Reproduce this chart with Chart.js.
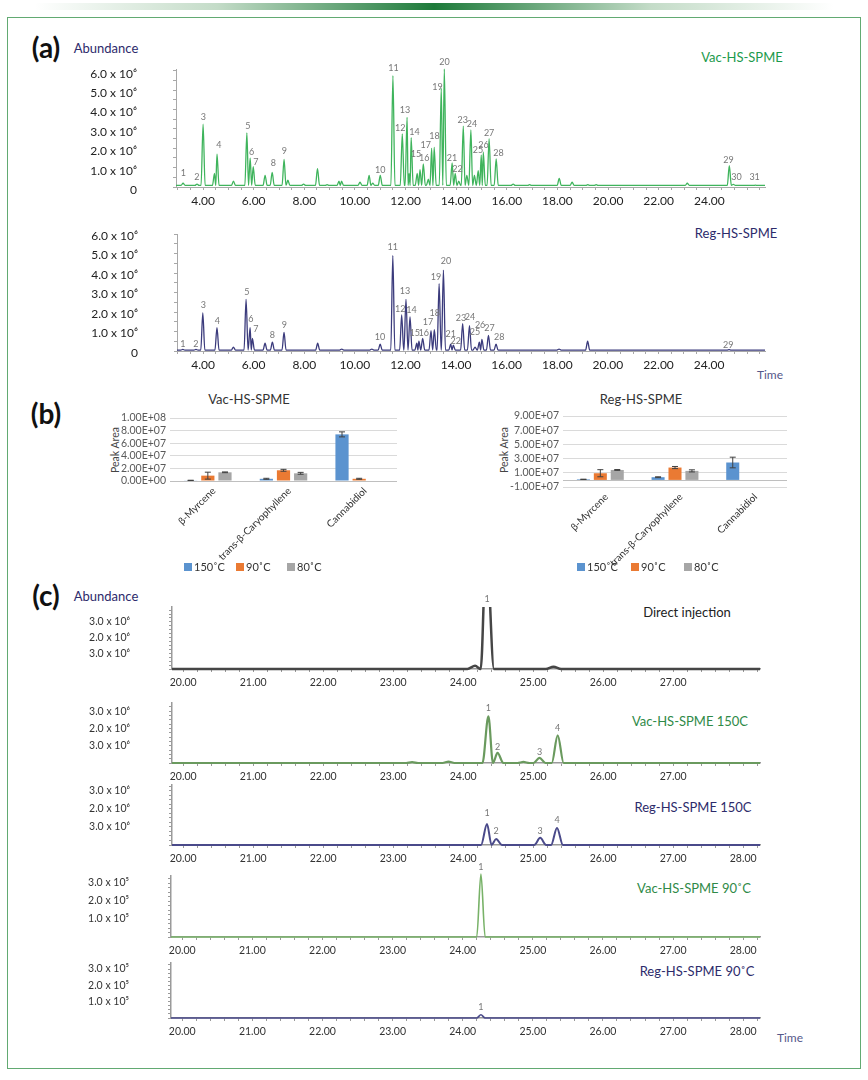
<!DOCTYPE html>
<html>
<head>
<meta charset="utf-8">
<script src="https://cdn.jsdelivr.net/npm/chart.js@4.4.1/dist/chart.umd.min.js"></script>
<style>
    body { margin: 0; background: #fff; font-family: Lato, "Open Sans", sans-serif; }
    #page { position: relative; width: 868px; height: 1080px; overflow: hidden; background: #fff; }
    .topbar { position: absolute; left: 0; top: 3px; width: 868px; height: 7px;
        background: linear-gradient(to right, rgba(255,255,255,0) 4%, #c4dcc8 25%, #1d7a3a 50%, #c4dcc8 75%, rgba(255,255,255,0) 96%); }
    .frame { position: absolute; left: 7px; top: 17px; width: 852px; height: 1050px; border: 1px solid #62aa72; }
    .t { position: absolute; white-space: nowrap; transform: translate(-50%, -50%); line-height: 1; }
    .panel { font-weight: 700; font-size: 28px; color: #111; }
    canvas { position: absolute; }
</style>
</head>
<body>
<div id="page">
    <div class="topbar"></div>
    <div class="frame"></div>

    <div class="t panel" style="left:46px;top:47px;">(a)</div>
    <div class="t" style="left:106px;top:48px;font-size:13px;color:#2d2b6b;">Abundance</div>
    <div class="t" style="left:742px;top:57px;font-size:13px;color:#1c9a4c;">Vac-HS-SPME</div>
    <div class="t" style="left:736px;top:233px;font-size:13px;color:#2d2b6b;">Reg-HS-SPME</div>
    <div class="t" style="left:770px;top:375px;font-size:12px;color:#55588a;">Time</div>

    <div class="t panel" style="left:46px;top:413px;">(b)</div>
    <div class="t" style="left:249px;top:399px;font-size:13px;color:#333;">Vac-HS-SPME</div>
    <div class="t" style="left:641px;top:399px;font-size:13px;color:#333;">Reg-HS-SPME</div>
    <div class="t" style="left:115px;top:450px;font-size:10.5px;color:#444;transform:translate(-50%,-50%) rotate(-90deg);">Peak Area</div>
    <div class="t" style="left:504px;top:450px;font-size:10.5px;color:#444;transform:translate(-50%,-50%) rotate(-90deg);">Peak Area</div>

    <div class="t panel" style="left:46px;top:595px;">(c)</div>
    <div class="t" style="left:106px;top:596px;font-size:13px;color:#2d2b6b;">Abundance</div>
    <div class="t" style="left:687px;top:612px;font-size:13px;color:#222;">Direct injection</div>
    <div class="t" style="left:690px;top:721px;font-size:13px;color:#2f8a48;">Vac-HS-SPME 150C</div>
    <div class="t" style="left:693px;top:807px;font-size:13px;color:#2d2b6b;">Reg-HS-SPME 150C</div>
    <div class="t" style="left:694px;top:888px;font-size:13px;color:#2f8a48;">Vac-HS-SPME 90˚C</div>
    <div class="t" style="left:697px;top:971px;font-size:13px;color:#2d2b6b;">Reg-HS-SPME 90˚C</div>
    <div class="t" style="left:790px;top:1038px;font-size:12px;color:#55588a;">Time</div>
</div>

<script>
// ---- (a) 크로마토그램: 피크 시간(min) / 높이(x10^6) ----
const vacTimes = [3.21, 3.76, 4.00, 4.45, 4.55, 5.20, 5.73, 5.86, 5.98, 6.45, 6.73, 7.20, 7.35, 7.97, 8.52, 8.90, 9.37, 9.47, 10.20, 10.56, 10.70, 11.00, 11.50, 11.87, 12.06, 12.14, 12.22, 12.46, 12.57, 12.70, 12.90, 13.03, 13.13, 13.41, 13.53, 13.84, 13.96, 14.10, 14.28, 14.42, 14.58, 14.72, 14.87, 14.99, 15.07, 15.30, 15.58, 16.25, 16.90, 18.07, 18.58, 19.20, 19.53, 23.13, 24.79, 24.95, 25.82];
const vacHeights = [0.2, 0.15, 3.25, 0.7, 1.7, 0.3, 2.8, 1.5, 1.05, 0.6, 0.75, 1.43, 0.35, 0.15, 0.95, 0.12, 0.3, 0.3, 0.25, 0.6, 0.2, 0.6, 5.75, 2.75, 3.6, 0.7, 2.55, 0.7, 0.9, 1.2, 0.4, 2.0, 2.05, 5.1, 6.1, 1.25, 0.7, 0.3, 3.15, 0.6, 2.95, 0.6, 0.85, 1.65, 1.8, 2.5, 1.45, 0.15, 0.12, 0.45, 0.25, 0.12, 0.12, 0.2, 1.1, 0.14, 0.1];
const vacLabelTexts = ['1', '2', '3', '4', '5', '6', '7', '8', '9', '10', '11', '12', '13', '14', '15', '16', '17', '18', '19', '20', '21', '22', '23', '24', '25', '26', '27', '28', '29', '30', '31'];
const vacLabelTimes = [3.22, 3.75, 4.01, 4.62, 5.77, 5.92, 6.09, 6.78, 7.21, 11.0, 11.52, 11.79, 11.98, 12.35, 12.41, 12.74, 12.80, 13.14, 13.26, 13.54, 13.83, 14.05, 14.26, 14.62, 14.86, 15.08, 15.30, 15.67, 24.76, 25.07, 25.79];
const vacLabelHeights = [0.71, 0.53, 3.60, 2.17, 3.15, 1.83, 1.31, 1.22, 1.88, 0.88, 6.14, 3.07, 3.98, 2.86, 1.69, 1.48, 2.17, 2.64, 5.19, 6.45, 1.48, 0.91, 3.46, 3.24, 1.91, 2.17, 2.78, 1.77, 1.40, 0.50, 0.50];

const regTimes = [3.20, 3.72, 3.99, 4.55, 5.20, 5.70, 5.86, 5.95, 6.45, 6.74, 7.20, 8.53, 9.48, 10.67, 11.00, 11.50, 11.85, 12.02, 12.18, 12.45, 12.53, 12.68, 13.01, 13.14, 13.33, 13.50, 13.79, 13.89, 14.26, 14.53, 14.75, 14.92, 15.02, 15.28, 15.58, 18.07, 19.20, 24.79];
const regHeights = [0.08, 0.08, 1.95, 1.2, 0.2, 2.65, 1.2, 0.65, 0.4, 0.45, 0.95, 0.4, 0.1, 0.1, 0.35, 4.9, 1.85, 2.65, 1.75, 0.4, 0.5, 0.65, 1.05, 1.1, 3.45, 4.15, 0.35, 0.3, 1.4, 1.3, 0.2, 0.45, 0.6, 0.8, 0.35, 0.1, 0.5, 0.07];
const regLabelTexts = ['1', '2', '3', '4', '5', '6', '7', '8', '9', '10', '11', '12', '13', '14', '15', '16', '17', '18', '19', '20', '21', '22', '23', '24', '25', '26', '27', '28', '29'];
const regLabelTimes = [3.20, 3.72, 4.01, 4.57, 5.73, 5.89, 6.09, 6.74, 7.21, 10.99, 11.50, 11.79, 11.98, 12.24, 12.37, 12.72, 12.89, 13.16, 13.21, 13.60, 13.79, 13.99, 14.19, 14.55, 14.75, 14.95, 15.32, 15.71, 24.76];
const regLabelHeights = [0.36, 0.36, 2.36, 1.54, 3.01, 1.66, 1.14, 0.81, 1.32, 0.70, 5.32, 2.15, 3.06, 2.10, 0.94, 0.94, 1.47, 1.96, 3.81, 4.62, 0.86, 0.51, 1.68, 1.76, 0.96, 1.33, 1.16, 0.73, 0.31];

// ---- (b) 막대 그래프 ----
const compounds = ['β-Myrcene', 'trans-β-Caryophyllene', 'Cannabidiol'];
const temps = ['150˚C', '90˚C', '80˚C'];
const vac150 = [1.0e6, 3.5e6, 7.4e7];
const vac90 = [8.5e6, 1.7e7, 3.5e6];
const vac80 = [1.38e7, 1.22e7, 8.0e5];
const vac150Err = [2e5, 8e5, 4e6];
const vac90Err = [5.5e6, 1.5e6, 8e5];
const vac80Err = [6e5, 1.5e6, 0];
const reg150 = [8.0e5, 3.8e6, 2.45e7];
const reg90 = [9.4e6, 1.74e7, 0];
const reg80 = [1.4e7, 1.27e7, 0];
const reg150Err = [2e5, 6e5, 7.5e6];
const reg90Err = [5e6, 1.5e6, 0];
const reg80Err = [6e5, 1.5e6, 0];

// ---- (c) 크로마토그램 ----
const directTimes = [24.17, 24.33, 25.29];
const directHeights = [0.2, 8.0, 0.15];
const directLabelTimes = [24.34];
const directLabelHeights = [4.46];

const vac150Times = [23.27, 23.79, 24.36, 24.49, 24.86, 25.09, 25.35];
const vac150Heights = [0.05, 0.08, 2.7, 0.58, 0.06, 0.3, 1.6];
const vac150LabelTimes = [24.36, 24.49, 25.09, 25.35];
const vac150LabelHeights = [3.18, 0.92, 0.64, 2.02];

const reg150Times = [24.34, 24.47, 25.10, 25.34];
const reg150Heights = [1.17, 0.33, 0.4, 0.95];
const reg150LabelTimes = [24.34, 24.47, 25.10, 25.34];
const reg150LabelHeights = [1.75, 0.78, 0.78, 1.39];

const vac90Times = [24.26];
const vac90Heights = [3.5];
const vac90LabelHeights = [3.89];

const reg90Times = [24.26];
const reg90Heights = [0.2];
const reg90LabelHeights = [0.67];

const peakNumbers = ['1', '2', '3', '4'];
const tickValuesC = [1, 2, 3];
const tickTextsE6 = ['3.0 x 10⁶', '2.0 x 10⁶', '3.0 x 10⁶'];
const tickTextsE5 = ['1.0 x 10⁵', '2.0 x 10⁵', '3.0 x 10⁵'];

Chart.defaults.font.family = 'Lato, "Open Sans", sans-serif';

// 피크 번호 표시
const peakLabels = {
    id: 'peakLabels',
    afterDatasetsDraw(chart) {
        const o = chart.config.options.plugins.peakLabels;
        if (!o || !o.texts) return;
        const { ctx, scales: { x, y } } = chart;
        ctx.save();
        ctx.font = '9px Lato, "Open Sans", sans-serif';
        ctx.fillStyle = '#777';
        ctx.textAlign = 'center';
        ctx.textBaseline = 'middle';
        o.texts.forEach((s, i) => {
            ctx.fillText(s, x.getPixelForValue(o.times[i]), y.getPixelForValue(o.heights[i]));
        });
        ctx.restore();
    }
};

// 오차 막대 + 0 기준선
const errorBars = {
    id: 'errorBars',
    afterDatasetsDraw(chart) {
        const o = chart.config.options.plugins.errorBars;
        if (!o || !o.errors) return;
        const { ctx, scales: { y }, chartArea } = chart;
        ctx.save();
        ctx.strokeStyle = '#bfbfbf';
        ctx.lineWidth = 1;
        const y0 = Math.round(y.getPixelForValue(0)) + 0.5;
        ctx.beginPath();
        ctx.moveTo(chartArea.left, y0);
        ctx.lineTo(chartArea.right, y0);
        ctx.stroke();
        ctx.strokeStyle = '#404040';
        chart.data.datasets.forEach((ds, i) => {
            const meta = chart.getDatasetMeta(i);
            meta.data.forEach((bar, j) => {
                const err = o.errors[i][j];
                if (!err) return;
                const top = y.getPixelForValue(ds.data[j] + err);
                const bot = y.getPixelForValue(ds.data[j] - err);
                ctx.beginPath();
                ctx.moveTo(bar.x, top); ctx.lineTo(bar.x, bot);
                ctx.moveTo(bar.x - 3, top); ctx.lineTo(bar.x + 3, top);
                ctx.moveTo(bar.x - 3, bot); ctx.lineTo(bar.x + 3, bot);
                ctx.stroke();
            });
        });
        ctx.restore();
    }
};

Chart.register(peakLabels, errorBars);

const page = document.getElementById('page');

function addCanvas(left, top, w, h) {
    const c = document.createElement('canvas');
    c.width = w;
    c.height = h;
    c.style.left = left + 'px';
    c.style.top = top + 'px';
    page.appendChild(c);
    return c;
}

// 피크 목록 -> 선 데이터
function trace(times, heights, base, w, xMin, xMax) {
    const pts = [{ x: xMin, y: base }];
    times.forEach((t, i) => {
        let a = t - w, b = t + w;
        if (i > 0) a = Math.max(a, (times[i - 1] + t) / 2);
        if (i < times.length - 1) b = Math.min(b, (t + times[i + 1]) / 2);
        if (pts[pts.length - 1].x < a) pts.push({ x: a, y: base });
        pts.push({ x: t, y: heights[i] }, { x: b, y: base });
    });
    pts.push({ x: xMax, y: base });
    return pts;
}

// 일정 간격 눈금 (끝값 근처 눈금이 빠지지 않도록 직접 만든다)
function stepTicks(step) {
    return s => {
        const out = [];
        for (let k = Math.ceil(s.min / step - 1e-9); k * step <= s.max + 1e-9; k++) {
            out.push({ value: Math.round(k * step * 1e6) / 1e6 });
        }
        s.ticks = out;
    };
}

function chrom(o) {
    // y축 tick padding이 위/아래 여백으로도 쓰이므로 넉넉하게 둔다
    const PL = 150, PT = 48, PR = 20, PB = 48;
    const c = addCanvas(o.l - PL, o.t - PT, o.r - o.l + PL + PR, o.b - o.t + PT + PB);
    const axis = {
        drawOnChartArea: false,
        tickLength: 3,
        color: o.axisColor
    };
    const font = { size: o.fs };
    new Chart(c, {
        type: 'line',
        data: {
            datasets: [{
                data: trace(o.times, o.heights, o.base, o.w, o.xMin, o.xMax),
                borderColor: o.color,
                borderWidth: o.lw,
                pointRadius: 0,
                cubicInterpolationMode: 'monotone',
                clip: o.clip
            }]
        },
        options: {
            responsive: false,
            animation: false,
            events: [],
            layout: { padding: { top: PT, right: PR, left: 0, bottom: 0 } },
            plugins: {
                legend: { display: false },
                tooltip: { enabled: false },
                peakLabels: { texts: o.labelTexts, times: o.labelTimes, heights: o.labelHeights }
            },
            scales: {
                x: {
                    type: 'linear',
                    min: o.xMin,
                    max: o.xMax,
                    afterFit: s => { s.height = PB; },
                    afterBuildTicks: stepTicks(o.xStep),
                    grid: axis,
                    border: { color: o.axisColor, width: o.axisWidth },
                    ticks: {
                        autoSkip: false,
                        maxRotation: 0,
                        padding: o.xPad,
                        font: font,
                        color: o.fc,
                        callback: v => o.xLabel(v)
                    }
                },
                y: {
                    min: 0,
                    max: o.yMax,
                    afterFit: s => { s.width = PL; },
                    afterBuildTicks: stepTicks(o.yStep),
                    grid: axis,
                    border: { color: o.axisColor, width: o.axisWidth },
                    ticks: {
                        autoSkip: false,
                        padding: o.yPad,
                        labelOffset: o.yShift,
                        font: font,
                        color: o.fc,
                        callback: v => o.yLabel(v)
                    }
                }
            }
        }
    });
}

const labelA = v => (Math.abs(v / 2 - Math.round(v / 2)) < 1e-6 && v > 3.9 && v < 24.1) ? v.toFixed(2) : '';
const yLabelA = v => v === 0 ? '0' : (Math.abs(v - Math.round(v)) < 1e-6 ? v.toFixed(1) + ' x 10⁶' : '');
const labelC = maxLabel => v => (Math.abs(v - Math.round(v)) < 1e-6 && v > 19.9 && v < maxLabel + 0.1) ? v.toFixed(2) : '';
const yLabelC = texts => v => {
    const i = tickValuesC.findIndex(t => Math.abs(t - v) < 1e-6);
    return i < 0 ? '' : texts[i];
};

const styleA = { xStep: 0.5, yStep: 0.5, fs: 12, fc: '#222', axisColor: '#a8a8a8', axisWidth: 1, xPad: 4, yPad: 36, yShift: 3, w: 0.08, lw: 1.3, clip: false, xLabel: labelA, yLabel: yLabelA };

// (a) Vac-HS-SPME
chrom(Object.assign({}, styleA, {
    l: 176, r: 765, t: 69, b: 187, xMin: 2.93, xMax: 26.2, yMax: 6.1,
    times: vacTimes, heights: vacHeights, base: 0.08, color: '#3fb45c',
    labelTexts: vacLabelTexts, labelTimes: vacLabelTimes, labelHeights: vacLabelHeights
}));

// (a) Reg-HS-SPME
chrom(Object.assign({}, styleA, {
    l: 177, r: 765, t: 234, b: 351, xMin: 2.97, xMax: 26.21, yMax: 6.0, yShift: 2,
    times: regTimes, heights: regHeights, base: 0.05, color: '#3b3b7c',
    labelTexts: regLabelTexts, labelTimes: regLabelTimes, labelHeights: regLabelHeights
}));

const styleC = { xStep: 0.2, yStep: 0.25, fs: 10.5, fc: '#333', axisColor: '#9a9a9a', axisWidth: 1.5, xPad: 4, yPad: 39, yShift: 0, base: 0, clip: false, xMin: 19.84, xMax: 28.24 };

// (c) Direct injection
chrom(Object.assign({}, styleC, {
    l: 172, r: 760, t: 607, b: 669, yMax: 3.95,
    times: directTimes, heights: directHeights, w: 0.11, color: '#464646', lw: 2.5,
    clip: { left: 5, right: 5, top: 0, bottom: 5 },
    labelTexts: ['1'], labelTimes: directLabelTimes, labelHeights: directLabelHeights,
    xLabel: labelC(27), yLabel: yLabelC(tickTextsE6)
}));

// (c) Vac-HS-SPME 150C
chrom(Object.assign({}, styleC, {
    l: 172, r: 760, t: 703, b: 763, yMax: 3.47,
    times: vac150Times, heights: vac150Heights, w: 0.085, color: '#6a9a5e', lw: 2.2,
    labelTexts: peakNumbers, labelTimes: vac150LabelTimes, labelHeights: vac150LabelHeights,
    xLabel: labelC(27), yLabel: yLabelC(tickTextsE6)
}));

// (c) Reg-HS-SPME 150C
chrom(Object.assign({}, styleC, {
    l: 172, r: 760, t: 785, b: 845, yMax: 3.33,
    times: reg150Times, heights: reg150Heights, w: 0.085, color: '#4a4a8a', lw: 2,
    labelTexts: peakNumbers, labelTimes: reg150LabelTimes, labelHeights: reg150LabelHeights,
    xLabel: labelC(28), yLabel: yLabelC(tickTextsE6)
}));

// (c) Vac-HS-SPME 90˚C
chrom(Object.assign({}, styleC, {
    l: 171, r: 760, t: 876, b: 937, yMax: 3.39,
    times: vac90Times, heights: vac90Heights, w: 0.06, color: '#78b268', lw: 1.6,
    labelTexts: ['1'], labelTimes: vac90Times, labelHeights: vac90LabelHeights,
    xLabel: labelC(28), yLabel: yLabelC(tickTextsE5)
}));

// (c) Reg-HS-SPME 90˚C
chrom(Object.assign({}, styleC, {
    l: 171, r: 760, t: 963, b: 1018, yMax: 3.37,
    times: reg90Times, heights: reg90Heights, w: 0.06, color: '#4a4a8a', lw: 1.6,
    labelTexts: ['1'], labelTimes: reg90Times, labelHeights: reg90LabelHeights,
    xLabel: labelC(28), yLabel: yLabelC(tickTextsE5)
}));

// 지수 표기 (1.00E+07)
function sci(v) {
    if (v === 0) return '0.00E+00';
    const e = Math.floor(Math.log10(Math.abs(v)) + 1e-9);
    const m = v / Math.pow(10, e);
    return m.toFixed(2) + 'E' + (e < 0 ? '-' : '+') + String(Math.abs(e)).padStart(2, '0');
}

const barColors = ['#5b93cf', '#ea7a33', '#a6a6a6'];

function barChart(o) {
    const PL = 100, PT = 20, PR = 10, PB = 100;
    const c = addCanvas(o.l - PL, o.t - PT, o.r - o.l + PL + PR, o.b - o.t + PT + PB);
    new Chart(c, {
        type: 'bar',
        data: {
            labels: compounds,
            datasets: o.series.map((d, i) => ({
                label: temps[i],
                data: d,
                backgroundColor: barColors[i],
                categoryPercentage: 0.68,
                barPercentage: 0.77
            }))
        },
        options: {
            responsive: false,
            animation: false,
            events: [],
            layout: { padding: { top: PT, right: PR, left: 0, bottom: 0 } },
            plugins: {
                legend: { display: false },
                tooltip: { enabled: false },
                errorBars: { errors: o.errors }
            },
            scales: {
                x: {
                    afterFit: s => { s.height = PB; },
                    grid: { display: false, drawTicks: false },
                    border: { display: false },
                    ticks: { minRotation: 45, maxRotation: 45, padding: 4, labelOffset: 6, font: { size: 10 }, color: '#333' }
                },
                y: {
                    min: o.yMin,
                    max: o.yMax,
                    afterFit: s => { s.width = PL; },
                    grid: { color: '#dadada', drawTicks: false },
                    border: { display: false },
                    ticks: { stepSize: 2e7, autoSkip: false, padding: 4, font: { size: 10.5 }, color: '#595959', callback: v => sci(v) }
                }
            }
        }
    });
    // 범례
    temps.forEach((t, i) => {
        const sq = document.createElement('div');
        sq.style.cssText = `position:absolute;left:${o.legendX[i]}px;top:${o.legendY - 4}px;width:8px;height:8px;background:${barColors[i]};`;
        page.appendChild(sq);
        const tx = document.createElement('div');
        tx.textContent = t;
        tx.style.cssText = `position:absolute;left:${o.legendX[i] + 10}px;top:${o.legendY - 7}px;font-size:11px;line-height:14px;color:#333;`;
        page.appendChild(tx);
    });
}

barChart({
    l: 170, r: 397, t: 418, b: 481, yMin: 0, yMax: 1e8,
    series: [vac150, vac90, vac80], errors: [vac150Err, vac90Err, vac80Err],
    legendX: [184, 236, 287], legendY: 567
});

barChart({
    l: 563, r: 787, t: 416, b: 487, yMin: -1e7, yMax: 9e7,
    series: [reg150, reg90, reg80], errors: [reg150Err, reg90Err, reg80Err],
    legendX: [577, 631, 684], legendY: 567
});
</script>
</body>
</html>
